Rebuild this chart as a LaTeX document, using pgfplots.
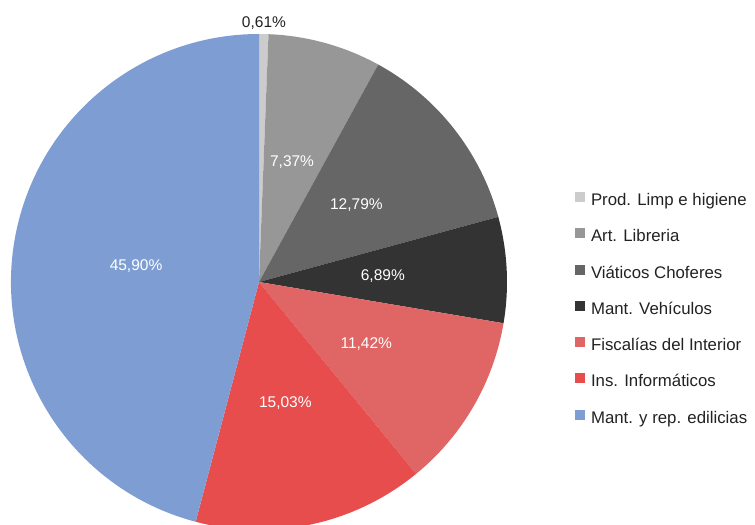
\documentclass[border=0pt]{standalone}
\usepackage{pgfplots}
\pgfplotsset{compat=1.18}
\usepackage{fontspec}
\setmainfont{Liberation Sans}
\definecolor{cA}{HTML}{CCCCCC}
\definecolor{cB}{HTML}{979797}
\definecolor{cC}{HTML}{666666}
\definecolor{cD}{HTML}{333333}
\definecolor{cE}{HTML}{E06666}
\definecolor{cF}{HTML}{E84D4D}
\definecolor{cG}{HTML}{7E9ED3}
\definecolor{txt}{HTML}{222222}
\begin{document}
\begin{tikzpicture}
% data (percent)
\def\vA{0.61}\def\vB{7.37}\def\vC{12.79}\def\vD{6.89}\def\vE{11.42}\def\vF{15.03}\def\vG{45.90}
\pgfmathsetmacro\aA{90}
\pgfmathsetmacro\aB{\aA-3.6*\vA}
\pgfmathsetmacro\aC{\aB-3.6*\vB}
\pgfmathsetmacro\aD{\aC-3.6*\vC}
\pgfmathsetmacro\aE{\aD-3.6*\vD}
\pgfmathsetmacro\aF{\aE-3.6*\vE}
\pgfmathsetmacro\aG{\aF-3.6*\vF}
\pgfmathsetmacro\aH{\aG-3.6*\vG}
\pgfmathsetmacro\mA{(\aA+\aB)/2}
\pgfmathsetmacro\mB{(\aB+\aC)/2}
\pgfmathsetmacro\mC{(\aC+\aD)/2}
\pgfmathsetmacro\mD{(\aD+\aE)/2}
\pgfmathsetmacro\mE{(\aE+\aF)/2}
\pgfmathsetmacro\mF{(\aF+\aG)/2}
\pgfmathsetmacro\mG{(\aG+\aH)/2}
\begin{axis}[
  scale only axis, width=755bp, height=525bp,
  xmin=0, xmax=755, ymin=0, ymax=525,
  hide axis, clip=true,
  legend cell align=left,
  legend image code/.code={\fill[#1] (0bp,-0.5bp) rectangle (10bp,9.5bp);},
  legend style={draw=none, fill=none, inner sep=0pt, outer sep=0pt,
    font=\fontsize{16.8bp}{20bp}\selectfont, text=txt,
    at={(axis cs:575,333)}, anchor=north west,
    row sep=18.8bp,
    nodes={inner sep=0pt, text height=12bp, text depth=4bp},
    /tikz/every odd column/.style={column sep=6bp}},
]
\addlegendimage{fill=cA, draw=none}\addlegendentry{Prod. Limp e higiene}
\addlegendimage{fill=cB, draw=none}\addlegendentry{Art. Libreria}
\addlegendimage{fill=cC, draw=none}\addlegendentry{Viáticos Choferes}
\addlegendimage{fill=cD, draw=none}\addlegendentry{Mant. Vehículos}
\addlegendimage{fill=cE, draw=none}\addlegendentry{Fiscalías del Interior}
\addlegendimage{fill=cF, draw=none}\addlegendentry{Ins. Informáticos}
\addlegendimage{fill=cG, draw=none}\addlegendentry{Mant. y rep. edilicias}
\fill[cA] (axis cs:259,243) -- ++(\aA:248bp) arc[start angle=\aA, end angle=\aB, radius=248bp] -- cycle;
\fill[cB] (axis cs:259,243) -- ++(\aB:248bp) arc[start angle=\aB, end angle=\aC, radius=248bp] -- cycle;
\fill[cC] (axis cs:259,243) -- ++(\aC:248bp) arc[start angle=\aC, end angle=\aD, radius=248bp] -- cycle;
\fill[cD] (axis cs:259,243) -- ++(\aD:248bp) arc[start angle=\aD, end angle=\aE, radius=248bp] -- cycle;
\fill[cE] (axis cs:259,243) -- ++(\aE:248bp) arc[start angle=\aE, end angle=\aF, radius=248bp] -- cycle;
\fill[cF] (axis cs:259,243) -- ++(\aF:248bp) arc[start angle=\aF, end angle=\aG, radius=248bp] -- cycle;
\fill[cG] (axis cs:259,243) -- ++(\aG:248bp) arc[start angle=\aG, end angle=\aH, radius=248bp] -- cycle;
\begin{scope}[every node/.style={font=\fontsize{15.5bp}{18bp}\selectfont, text=white, inner sep=0pt}]
\node[text=txt] at (axis cs:259,243) [shift={(\mA:259bp)}] {0,61\%};
\node at (axis cs:259,243) [shift={(\mB:124bp)}] {7,37\%};
\node at (axis cs:259,243) [shift={(\mC:124bp)}] {12,79\%};
\node at (axis cs:259,243) [shift={(\mD:124bp)}] {6,89\%};
\node at (axis cs:259,243) [shift={(\mE:124bp)}] {11,42\%};
\node at (axis cs:259,243) [shift={(\mF:124bp)}] {15,03\%};
\node at (axis cs:259,243) [shift={(\mG:124bp)}] {45,90\%};
\end{scope}
\end{axis}
\pgfresetboundingbox
\path (current axis.south west) rectangle (current axis.north east);
\end{tikzpicture}
\end{document}
